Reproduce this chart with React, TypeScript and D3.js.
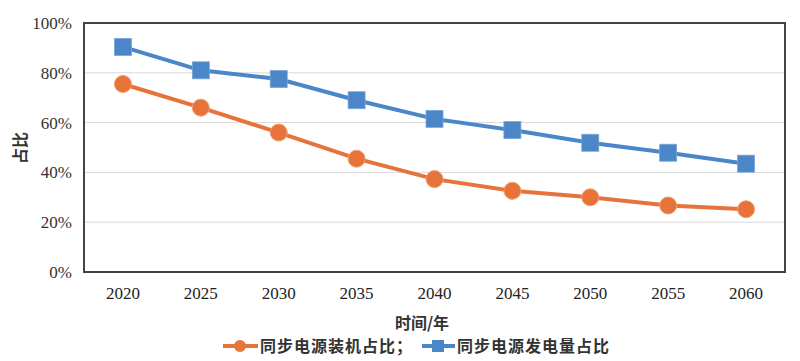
import React from "react";
import * as d3 from "d3";

const years = ["2020", "2025", "2030", "2035", "2040", "2045", "2050", "2055", "2060"];
const installShare = [75.5, 66, 56, 45.5, 37.3, 32.6, 30, 26.7, 25.2];
const generationShare = [90.4, 81, 77.5, 69, 61.5, 57, 51.9, 47.9, 43.5];
const yTicks = [0, 20, 40, 60, 80, 100];

const W = 800, H = 361;
const L = 84, R = 785, T = 23, B = 272;
const ORANGE = "#E8733A";
const BLUE = "#4A86C8";
const serif = "Liberation Serif";
const cjk = "Noto Sans CJK SC";

export default function App() {
  const x = d3.scaleBand<string>().domain(years).range([L, R]);
  const y = d3.scaleLinear().domain([0, 100]).range([B, T]);
  const cx = (d: string) => (x(d) as number) + x.bandwidth() / 2;
  const line = d3.line<number>().x((_, i) => cx(years[i])).y((v) => y(v));

  return (
    <svg width={W} height={H} style={{ position: "absolute", left: 0, top: 0, background: "#fff" }}>
      <rect x={0} y={0} width={W} height={H} fill="#fff" />
      {yTicks.map((t) => (
        <g key={t}>
          {t > 0 && t < 100 && <line x1={L} x2={R} y1={y(t)} y2={y(t)} stroke="#d9d9d9" strokeWidth={1} />}
          <text x={72} y={y(t)} dy="0.35em" textAnchor="end" style={{ fontFamily: serif, fontSize: 17 }} fill="#333">
            {t}%
          </text>
        </g>
      ))}
      <rect x={L} y={T} width={R - L} height={B - T} fill="none" stroke="#444" strokeWidth={2} />
      {years.map((yr) => (
        <text key={yr} x={cx(yr)} y={293} dy="0.35em" textAnchor="middle" style={{ fontFamily: serif, fontSize: 17 }} fill="#222">
          {yr}
        </text>
      ))}
      <path d={line(generationShare) || ""} fill="none" stroke={BLUE} strokeWidth={4} />
      <path d={line(installShare) || ""} fill="none" stroke={ORANGE} strokeWidth={4} />
      {generationShare.map((v, i) => (
        <rect key={"g" + i} x={cx(years[i]) - 8.5} y={y(v) - 8.5} width={17} height={17} fill={BLUE} stroke="#7aa6d8" strokeWidth={0.8} />
      ))}
      {installShare.map((v, i) => (
        <circle key={"o" + i} cx={cx(years[i])} cy={y(v)} r={8.5} fill={ORANGE} stroke="#f0a070" strokeWidth={1} />
      ))}
      <text transform="translate(20,148) rotate(-90)" textAnchor="middle" dy="0.35em" style={{ fontFamily: cjk, fontSize: 16, fontWeight: 700 }} fill="#333">
        占比
      </text>
      <text x={422} y={323} dy="0.35em" textAnchor="middle" style={{ fontFamily: cjk, fontSize: 16, fontWeight: 700 }} fill="#333">
        时间/年
      </text>
      <g>
        <line x1={223} x2={258} y1={346} y2={346} stroke={ORANGE} strokeWidth={4} />
        <circle cx={240} cy={346} r={6} fill={ORANGE} />
        <text x={260} y={346} dy="0.35em" style={{ fontFamily: cjk, fontSize: 16, fontWeight: 700, letterSpacing: 1 }} fill="#333">
          同步电源装机占比；
        </text>
        <line x1={422} x2={455} y1={346} y2={346} stroke={BLUE} strokeWidth={4} />
        <rect x={432} y={340} width={12} height={12} fill={BLUE} />
        <text x={457} y={346} dy="0.35em" style={{ fontFamily: cjk, fontSize: 16, fontWeight: 700, letterSpacing: 1 }} fill="#333">
          同步电源发电量占比
        </text>
      </g>
    </svg>
  );
}
